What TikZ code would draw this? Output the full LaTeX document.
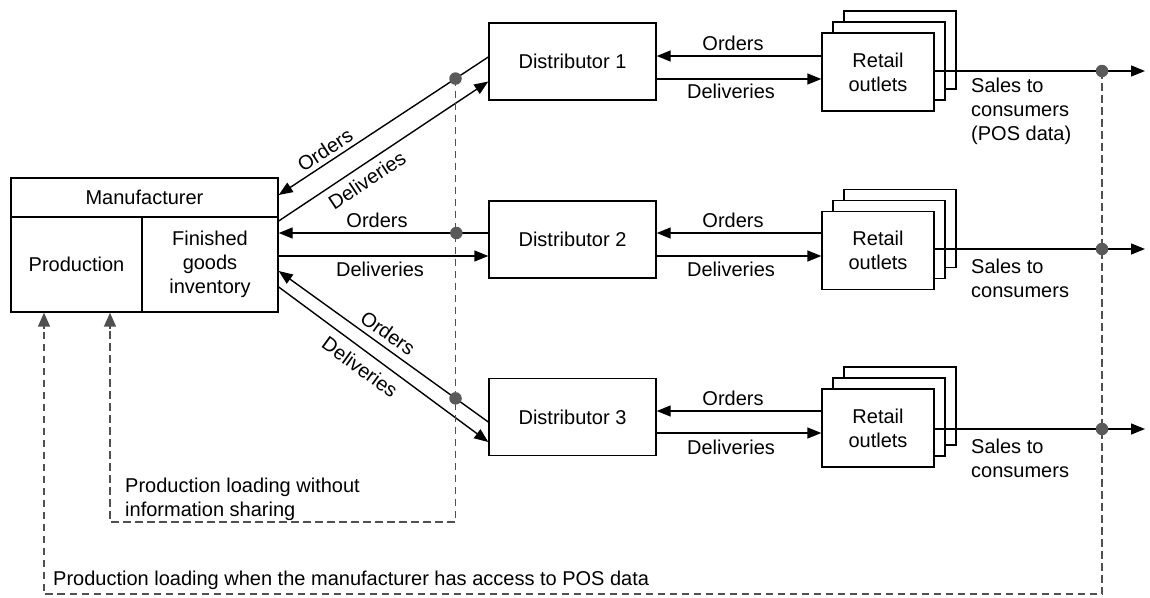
\documentclass[tikz,border=0pt]{standalone}
\usepackage{fontspec}
\setmainfont{Liberation Sans}
\usetikzlibrary{arrows.meta,calc}
\definecolor{dgray}{RGB}{80,80,80}
\definecolor{dotgray}{RGB}{90,90,90}
\begin{document}
\begin{tikzpicture}[x=1pt,y=-1pt,
  font=\fontsize{20}{24}\selectfont,
  box/.style={draw,line width=1.4pt,fill=white,inner sep=0pt,align=center},
  mainbox/.style={box,minimum width=167pt,minimum height=77pt},
  retbox/.style={box,minimum width=112pt,minimum height=78pt},
  arr/.style={line width=1.4pt,-{Triangle[length=14pt,width=11pt]}},
  dsh/.style={line width=1.6pt,dgray,dash pattern=on 7.5pt off 4.5pt},
  darr/.style={line width=1.6pt,dgray,-{Triangle[length=14pt,width=12pt]}},
  pt/.style={circle,fill=dotgray,inner sep=0pt,minimum size=12.5pt},
  lbl/.style={inner sep=0pt,align=center},
  lbll/.style={inner sep=0pt,align=left,anchor=west}]
\useasboundingbox (0,0) rectangle (1150,597);

% Manufacturer
\node[box,minimum width=267pt,minimum height=39pt] (mf) at (144.5,197.5) {Manufacturer};
\node[box,minimum width=131pt,minimum height=95pt] (prod) at (76.5,264.5) {Production};
\node[box,minimum width=136pt,minimum height=95pt] (fgi) at (210,264.5) {Finished\\goods\\inventory};

% Distributors
\node[mainbox] (d1) at (572.5,61.5) {Distributor 1};
\node[mainbox] (d2) at (572.5,239.5) {Distributor 2};
\node[mainbox] (d3) at (572.5,417) {Distributor 3};

% Retail outlets (stacked)
\node[retbox] (r1c) at (900,50) {};
\node[retbox] (r1b) at (889,61) {};
\node[retbox] (r1) at (878,72) {Retail\\outlets};
\node[retbox] (r2c) at (900,228.5) {};
\node[retbox] (r2b) at (889,239.5) {};
\node[retbox] (r2) at (878,250.5) {Retail\\outlets};
\node[retbox] (r3c) at (900,406) {};
\node[retbox] (r3b) at (889,417) {};
\node[retbox] (r3) at (878,428) {Retail\\outlets};

% level helpers
\coordinate (o1) at (0,56);  \coordinate (v1) at (0,79);
\coordinate (o2) at (0,233); \coordinate (v2) at (0,256);
\coordinate (o3) at (0,411); \coordinate (v3) at (0,433);
\coordinate (s1) at (0,71);  \coordinate (s2) at (0,249); \coordinate (s3) at (0,429);
\coordinate (ex) at (1145,0);

% Distributor <-> retail
\draw[arr] (r1.west |- o1) -- (d1.east |- o1);
\draw[arr] (d1.east |- v1) -- (r1.west |- v1);
\draw[arr] (r2.west |- o2) -- (d2.east |- o2);
\draw[arr] (d2.east |- v2) -- (r2.west |- v2);
\draw[arr] (r3.west |- o3) -- (d3.east |- o3);
\draw[arr] (d3.east |- v3) -- (r3.west |- v3);

% Sales to consumers
\draw[arr] (r1.east |- s1) -- (ex |- s1);
\draw[arr] (r2.east |- s2) -- (ex |- s2);
\draw[arr] (r3.east |- s3) -- (ex |- s3);

% Manufacturer <-> distributors
\draw[arr] ($(d1.west)+(0,-4.5)$) -- coordinate[pos=0.1564] (p1) ($(mf.east)+(0,-2.5)$);
\draw[arr] ($(fgi.east)+(0,-43.5)$) -- ($(d1.west)+(0,20)$);
\draw[arr] (d2.west |- o2) -- coordinate[pos=0.1524] (p2) (fgi.east |- o2);
\draw[arr] (fgi.east |- v2) -- (d2.west |- v2);
\draw[arr] ($(d3.west)+(0,5)$) -- coordinate[pos=0.1564] (p3) ($(fgi.east)+(0,6.5)$);
\draw[arr] ($(fgi.east)+(0,22.5)$) -- ($(d3.west)+(0,25)$);

% Retail-side tap points
\coordinate (q1) at (1102,71);
\coordinate (q2) at (1102,249);
\coordinate (q3) at (1102,429);

% Dashed information paths
\coordinate (c1) at (110,522);
\coordinate (c2) at (44,594);
\draw[dsh] (p1) |- (c1) -- ([yshift=-14pt]prod.south -| c1);
\draw[darr] ([yshift=-16pt]prod.south -| c1) -- (prod.south -| c1);
\draw[dsh] (q1) |- (c2) -- ([yshift=-14pt]prod.south -| c2);
\draw[darr] ([yshift=-16pt]prod.south -| c2) -- (prod.south -| c2);

% Dots
\node[pt] (dp1) at (p1) {};
\node[pt] (dp2) at (p2) {};
\node[pt] (dp3) at (p3) {};
\node[pt] (dq1) at (q1) {};
\node[pt] (dq2) at (q2) {};
\node[pt] (dq3) at (q3) {};

% Labels
\node[lbl] (lo1) at (733,43) {Orders};
\node[lbl] (ld1) at (731,91) {Deliveries};
\node[lbl] (lo2) at (733,220) {Orders};
\node[lbl] (ld2) at (731,269) {Deliveries};
\node[lbl] (lo3) at (733,398) {Orders};
\node[lbl] (ld3) at (731,447) {Deliveries};

\node[lbl,rotate=33.4] (mo1) at (325,150) {Orders};
\node[lbl,rotate=33.6] (md1) at (367,180) {Deliveries};
\node[lbl] (mo2) at (377,220) {Orders};
\node[lbl] (md2) at (380,269) {Deliveries};
\node[lbl,rotate=-35.6] (mo3) at (388,333) {Orders};
\node[lbl,rotate=-36] (md3) at (360,367) {Deliveries};

\node[lbll] (sc1) at (971,111.5) {Sales to\\consumers\\(POS data)};
\node[lbll] (sc2) at (971,278.5) {Sales to\\consumers};
\node[lbll] (sc3) at (971,458) {Sales to\\consumers};

\node[lbll] (pl1) at (125,499.5) {Production loading without\\information sharing};
\node[lbll] (pl2) at (53,580) {Production loading when the manufacturer has access to POS data};
\end{tikzpicture}
\end{document}
